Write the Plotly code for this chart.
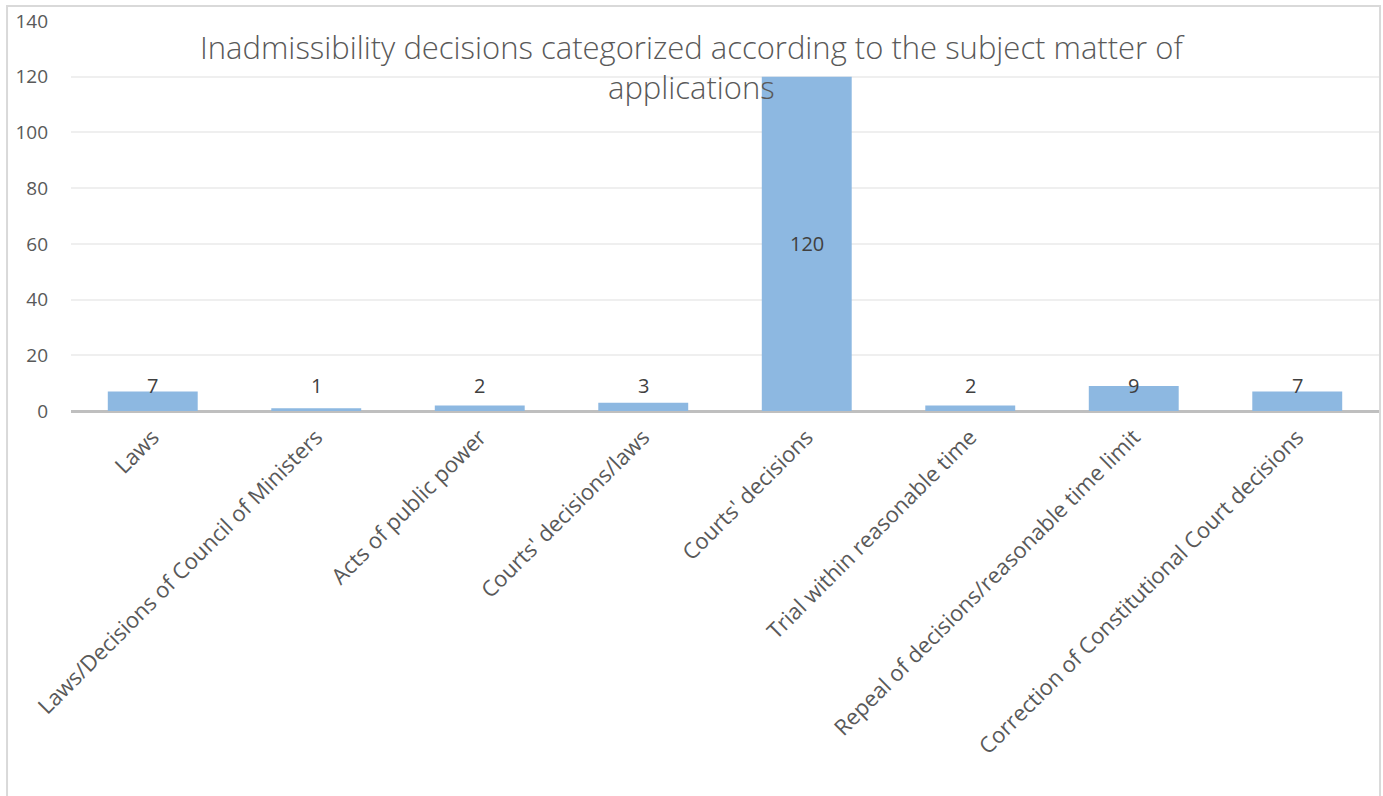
import plotly.graph_objects as go

categories = [
    "Laws",
    "Laws/Decisions of Council of Ministers",
    "Acts of public power",
    "Courts' decisions/laws",
    "Courts' decisions",
    "Trial within reasonable time",
    "Repeal of decisions/reasonable time limit",
    "Correction of Constitutional Court decisions",
]
values = [7, 1, 2, 3, 120, 2, 9, 7]

y_ticks = [0, 20, 40, 60, 80, 100, 120, 140]

title_text = "Inadmissibility decisions categorized according to the subject matter of<br>applications"

bar_color = "#8DB8E1"
text_color = "#595959"
label_color = "#404040"
font_family = "Open Sans, Liberation Sans, sans-serif"

fig = go.Figure()
fig.add_trace(go.Bar(
    x=categories,
    y=values,
    marker=dict(color=bar_color, line=dict(width=0)),
    hoverinfo="x+y",
))

# value labels: tall bars get the label in the middle, short ones sit just above the axis
annotations = []
for cat, v in zip(categories, values):
    if v >= 40:
        annotations.append(dict(x=cat, y=v / 2, text=str(v), showarrow=False,
                                font=dict(size=20, color=label_color, family=font_family)))
    else:
        annotations.append(dict(x=cat, y=0, yshift=26, text=str(v), showarrow=False,
                                font=dict(size=20, color=label_color, family=font_family)))

# chart title drawn over the plot area
annotations.append(dict(
    text=title_text, xref="paper", yref="paper", x=0.4748, y=0.882,
    xanchor="center", yanchor="middle", showarrow=False,
    font=dict(size=31, color=text_color, family=font_family, weight=300),
))

fig.update_layout(
    width=1383,
    height=796,
    margin=dict(l=71, r=4, t=21, b=385),
    paper_bgcolor="white",
    plot_bgcolor="white",
    showlegend=False,
    bargap=0.45,
    xaxis=dict(
        tickangle=-45,
        tickfont=dict(size=22, color=text_color, family=font_family),
        showgrid=False,
        showline=False,
        ticks="",
        zeroline=False,
        ticklabelstandoff=8,
    ),
    yaxis=dict(
        range=[0, 140],
        tickvals=y_ticks,
        tickfont=dict(size=19, color=text_color, family=font_family),
        showgrid=True,
        gridcolor="#EFEFEF",
        gridwidth=1.5,
        zeroline=True,
        zerolinecolor="#BFBFBF",
        zerolinewidth=3,
        showline=False,
        ticks="",
        ticklabelstandoff=22,
    ),
    annotations=annotations,
    shapes=[dict(
        type="rect", xref="paper", yref="paper",
        x0=-0.0489, x1=1.0008, y0=-1.05, y1=1.0385,
        line=dict(color="#D9D9D9", width=2),
        fillcolor="rgba(0,0,0,0)",
        layer="below",
    )],
)

fig.write_html("out.html")
